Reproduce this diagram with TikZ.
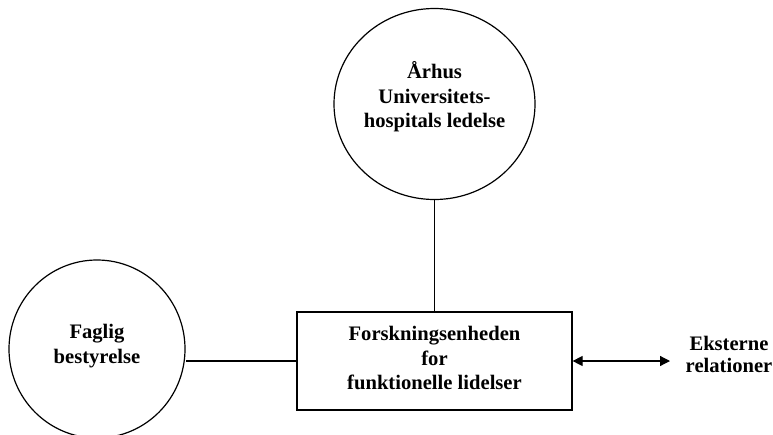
\documentclass[tikz,border=0pt]{standalone}
\usepackage{fontspec}
\setmainfont{Liberation Serif}
\usetikzlibrary{shapes.geometric,arrows.meta}
\begin{document}
\begin{tikzpicture}[x=1pt,y=-1pt,
  every node/.style={font=\fontsize{20.6}{24.5}\selectfont\bfseries, align=center},
  lineS/.style={line width=1.2pt},
  circ/.style={lineS, draw, ellipse, inner sep=0pt},
  boxS/.style={lineS, draw, rectangle, inner sep=0pt, minimum width=275pt, minimum height=98pt}]
\useasboundingbox (0,0) rectangle (773,434);
\node[circ, minimum width=201pt, minimum height=191pt] (top) at (434.5,104) {};
\node at (434.5,97) {Århus\\Universitets-\\hospitals ledelse};
\node[circ, minimum width=176pt, minimum height=178pt] (left) at (97,349) {};
\node at (97,346) {Faglig\\bestyrelse};
\node[boxS] (box) at (434.5,361) {};
\node at (434.5,358) {Forskningsenheden\\for\\funktionelle lidelser};
\node[font=\fontsize{20.6}{22}\selectfont\bfseries, anchor=center] (ext) at (729,354) {Eksterne\\relationer};
\coordinate (arrEnd) at (670,361);
\draw[lineS] (top.south) -- (box.north);
\draw[lineS] (box.west) -- (box.west -| left.east);
\draw[lineS, {Triangle[length=10pt,width=10pt]}-{Triangle[length=10pt,width=10pt]}] (box.east) -- (arrEnd);
\end{tikzpicture}
\end{document}
